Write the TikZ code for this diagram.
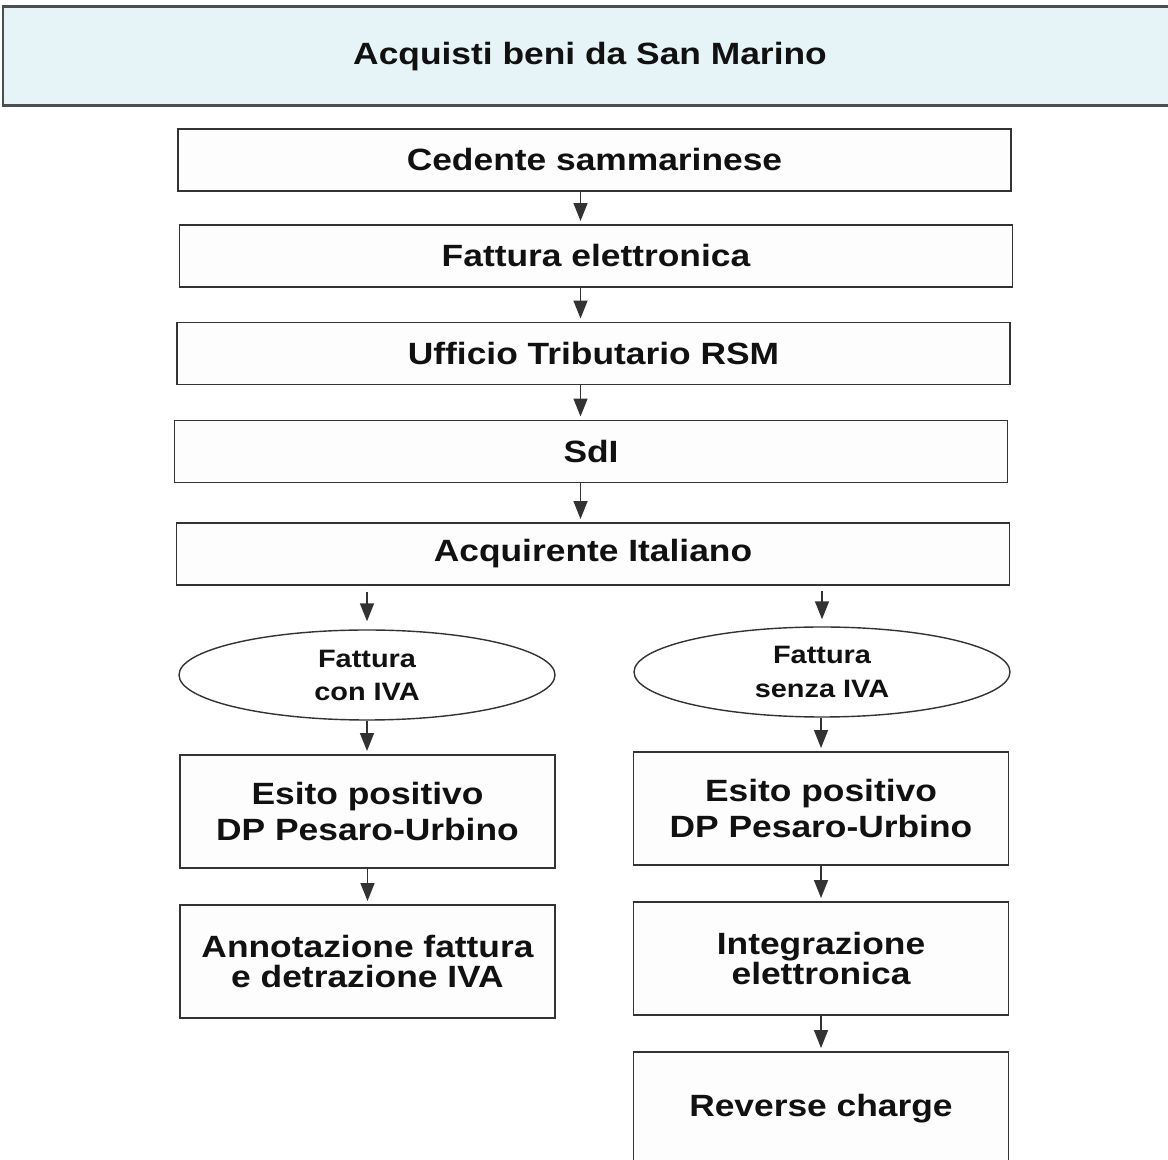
\documentclass[tikz,border=0pt]{standalone}
\usepackage{fontspec}
\setmainfont{Liberation Sans}[FakeStretch=1.15]
\usetikzlibrary{arrows.meta, shapes.geometric}
\definecolor{edge}{HTML}{333333}
\definecolor{titleedge}{HTML}{4A4F52}
\definecolor{titlefill}{HTML}{E7F4F7}
\definecolor{boxfill}{HTML}{FDFDFD}
\definecolor{ink}{HTML}{111111}

\begin{document}
\begin{tikzpicture}[
    every node/.style={font=\bfseries, text=ink},
    head/.style={draw=titleedge, line width=1.7pt, fill=titlefill,
        minimum width=23.48cm, minimum height=1.98cm, inner sep=0pt,
        font=\bfseries\fontsize{17.5}{21}\selectfont},
    flow/.style={draw=edge, line width=1.1pt, fill=boxfill,
        minimum width=16.66cm, minimum height=1.24cm, inner sep=0pt,
        font=\bfseries\fontsize{17.5}{21}\selectfont},
    case/.style={ellipse, draw=edge, line width=0.8pt, fill=white,
        minimum width=7.52cm, minimum height=1.80cm, inner sep=0pt,
        align=center, font=\bfseries\fontsize{14.3}{18.8}\selectfont},
    act/.style={draw=edge, line width=1.1pt, fill=boxfill,
        minimum width=7.50cm, minimum height=2.26cm, inner sep=0pt,
        align=center, font=\bfseries\fontsize{17.5}{17}\selectfont},
    arr/.style={draw=edge, line width=0.85pt,
        -{Triangle[length=0.36cm, width=0.28cm]}},
]
\useasboundingbox (0,0) rectangle (23.36,23.18);
\clip (0,0) rectangle (23.36,23.18);

% title band, runs off the right edge
\node[head] (title) at (11.80, 22.05) {Acquisti beni da San Marino};

% the common path
\node[flow] (cedente)    at (11.89, 19.98) {Cedente sammarinese};
\node[flow] (fattura)    at (11.92, 18.06) {Fattura elettronica};
\node[flow] (ufficio)    at (11.87, 16.11) {Ufficio Tributario RSM};
\node[flow] (sdi)        at (11.82, 14.15) {SdI};
\node[flow] (acquirente) at (11.86, 12.10) {Acquirente Italiano};

% the arrows of the common path sit a little left of centre
\coordinate (spine) at (11.61, 0);
\foreach \a/\b in {cedente/fattura, fattura/ufficio, ufficio/sdi, sdi/acquirente}{
    \draw[arr, shorten >=0.06cm] (\a.south -| spine) -- (\b.north -| spine);}

% the two cases
\node[case] (conIVA)   at (7.34, 9.68)  {Fattura\\con IVA};
\node[case] (senzaIVA) at (16.44, 9.74) {Fattura\\senza IVA};

\draw[arr, shorten <=0.12cm, shorten >=0.16cm] (acquirente.south -| conIVA.north) -- (conIVA.north);
\draw[arr, shorten <=0.10cm, shorten >=0.14cm] (acquirente.south -| senzaIVA.north) -- (senzaIVA.north);

% left column
\node[act] (esitoA) at (7.35, 6.95) {Esito positivo\\[4pt]DP Pesaro-Urbino};
\node[act] (annot)  at (7.35, 3.95) {Annotazione fattura\\e detrazione IVA};

% right column
\node[act] (esitoB)  at (16.42, 7.01) {Esito positivo\\[4pt]DP Pesaro-Urbino};
\node[act] (integr)  at (16.42, 4.01) {Integrazione\\elettronica};
\node[act] (reverse) at (16.42, 1.01) {Reverse charge};

\draw[arr, shorten >=0.06cm] (conIVA.south) -- (esitoA.north -| conIVA.south);
\draw[arr, shorten >=0.06cm] (esitoA.south) -- (annot.north);
\draw[arr, shorten >=0.06cm] (senzaIVA.south -| esitoB.north) -- (esitoB.north);
\draw[arr, shorten >=0.06cm] (esitoB.south) -- (integr.north);
\draw[arr, shorten >=0.06cm] (integr.south) -- (reverse.north);
\end{tikzpicture}
\end{document}
